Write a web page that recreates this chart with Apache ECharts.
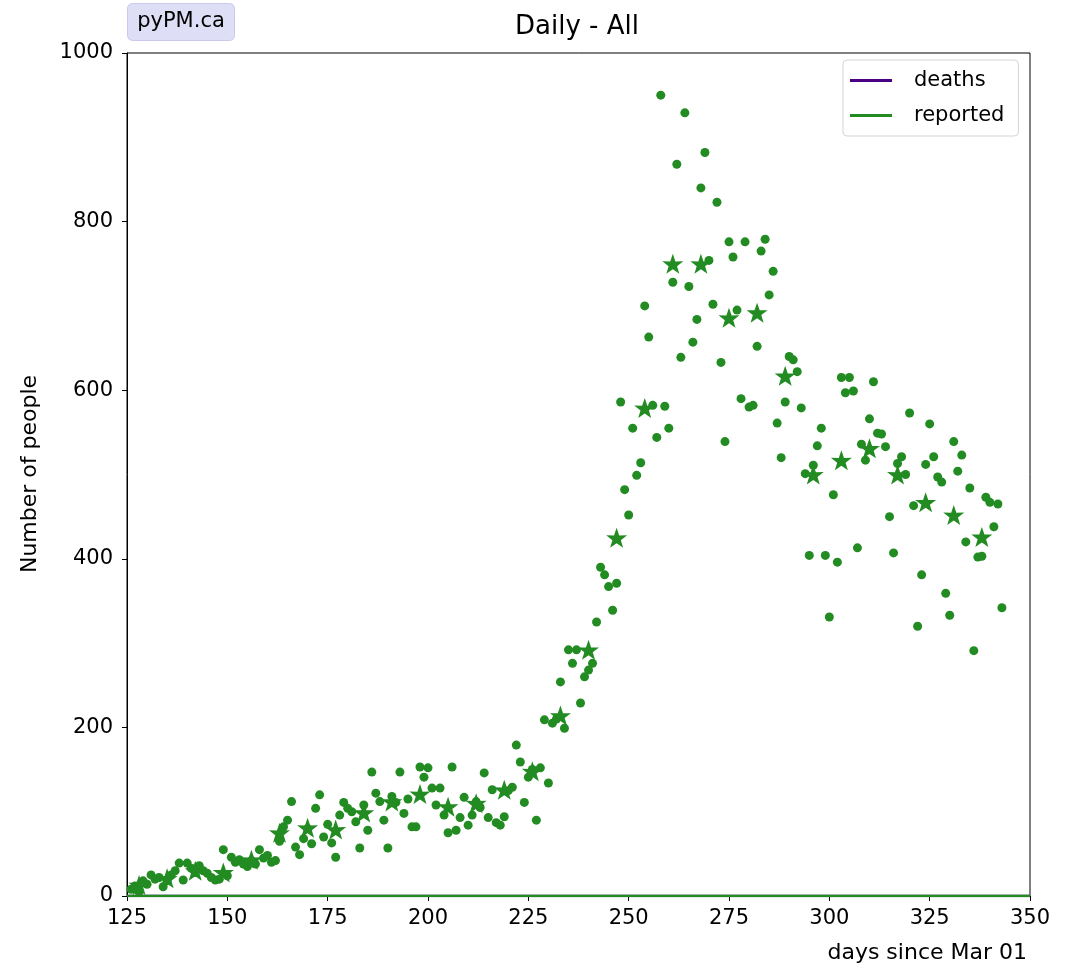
<!DOCTYPE html>
<html>
<head>
<meta charset="utf-8">
<title>Daily - All</title>
<script src="https://cdn.jsdelivr.net/npm/echarts@6/dist/echarts.min.js"></script>
<style>
  html, body { margin: 0; padding: 0; background: #fff; }
  #chart { width: 1066px; height: 968px; }
</style>
</head>
<body>
<div id="chart"></div>
<script>
// Daily reported counts, one value per day starting at firstDay (days since Mar 01)
const firstDay = 126;
const dailyReported = [
  8, 12, 5, 18, 14, 25, 20, 22, 11, 18,
  25, 30, 39, 19, 39, 33, 28, 36, 30, 27,
  22, 19, 20, 55, 24, 46, 40, 43, 38, 35,
  42, 38, 55, 45, 48, 40, 42, 65, 82, 90,
  112, 58, 49, 68, 80, 62, 104, 120, 70, 85,
  63, 46, 96, 111, 104, 100, 88, 57, 108, 78,
  147, 122, 112, 90, 57, 118, 111, 147, 98, 115,
  82, 82, 153, 141, 152, 128, 108, 128, 96, 75,
  153, 78, 93, 117, 84, 96, 112, 105, 146, 93,
  126, 87, 84, 94, 125, 129, 179, 159, 111, 141,
  150, 90, 152, 209, 134, 205, 210, 254, 199, 292,
  276, 292, 229, 260, 268, 276, 325, 390, 381, 367,
  339, 371, 586, 482, 452, 555, 499, 514, 700, 663,
  582, 544, 950, 581, 555, 728, 868, 639, 929, 723,
  657, 684, 840, 882, 754, 702, 823, 633, 539, 776,
  758, 695, 590, 776, 580, 582, 652, 765, 779, 713,
  741, 561, 520, 586, 640, 636, 622, 579, 501, 404,
  511, 534, 555, 404, 331, 476, 396, 615, 597, 615,
  599, 413, 536, 517, 566, 610, 549, 548, 533, 450,
  407, 513, 521, 500, 573, 463, 320, 381, 512, 560,
  521, 497, 491, 359, 333, 539, 504, 523, 420, 484,
  291, 402, 403, 473, 467, 438, 465, 342
];

// Weekly averages (star markers)
const weekDays = [128, 135, 142, 149, 156, 163, 170, 177, 184, 191, 198, 205, 212, 219, 226,
                  233, 240, 247, 254, 261, 268, 275, 282, 289, 296, 303, 310, 317, 324, 331, 338];
const weeklyReported = [13, 21, 30, 28, 43, 75, 81, 79, 99, 112, 121, 106, 110, 126, 148,
                        214, 292, 425, 579, 750, 750, 686, 692, 617, 500, 517, 531, 500, 467, 452, 426];

// Model lines shown in the legend
const lineDays = [125, 350];
const deathsLine = [0, 0];
const reportedLine = [0, 0];

const xTicks = { min: 125, max: 350, interval: 25 };
const yTicks = { min: 0, max: 1000, interval: 200 };

const GREEN = '#228b22';
const PURPLE = '#4b0082';
const FONT = 'DejaVu Sans';
const STAR = 'path://M50,0 L61.8,35.1 L97.6,34.5 L69.1,56.7 L79.4,90.9 L50,70.5 L20.6,90.9 L30.9,56.7 L2.4,34.5 L38.2,35.1 Z';

const dailyPoints = dailyReported.map((v, i) => [firstDay + i, v]);
const weeklyPoints = weekDays.map((d, i) => [d, weeklyReported[i]]);

const chart = echarts.init(document.getElementById('chart'), null, { renderer: 'canvas' });

chart.setOption({
  animation: false,
  backgroundColor: '#fff',
  textStyle: { fontFamily: FONT },
  grid: {
    left: 127, right: 36, top: 53, bottom: 72,
    show: true, borderColor: '#000', borderWidth: 1, backgroundColor: 'transparent'
  },
  xAxis: {
    type: 'value',
    min: xTicks.min, max: xTicks.max, interval: xTicks.interval,
    axisLine: { show: true, onZero: false, lineStyle: { color: '#000', width: 1 } },
    axisTick: { show: true, length: 5, lineStyle: { color: '#000' } },
    axisLabel: { color: '#000', fontSize: 21, fontFamily: FONT, margin: 12,
                 formatter: v => String(v) },
    splitLine: { show: false }
  },
  yAxis: {
    type: 'value',
    min: yTicks.min, max: yTicks.max, interval: yTicks.interval,
    axisLine: { show: true, lineStyle: { color: '#000', width: 1 } },
    axisTick: { show: true, length: 5, lineStyle: { color: '#000' } },
    axisLabel: { color: '#000', fontSize: 21, fontFamily: FONT, margin: 14,
                 formatter: v => String(v) },
    splitLine: { show: false }
  },
  legend: {
    orient: 'vertical',
    left: 843, top: 60,
    backgroundColor: '#fff',
    borderColor: '#d4d4d4', borderWidth: 1, borderRadius: 4,
    padding: [10, 14, 10, 7],
    itemWidth: 42, itemHeight: 3, itemGap: 14,
    textStyle: { fontSize: 21, fontFamily: FONT, color: '#000', padding: [0, 0, 0, 17] },
    data: [
      { name: 'deaths', icon: 'rect', itemStyle: { color: PURPLE } },
      { name: 'reported', icon: 'rect', itemStyle: { color: GREEN } }
    ]
  },
  graphic: [
    {
      type: 'group', left: 127, top: 3,
      children: [
        { type: 'rect', shape: { x: 0, y: 0, width: 107, height: 37, r: 5 },
          style: { fill: '#dedef6', stroke: '#c9c9ee', lineWidth: 1 } },
        { type: 'text', x: 53.5, y: 18.5,
          style: { text: 'pyPM.ca', font: '21px "DejaVu Sans"', fill: '#000',
                   textAlign: 'center', textVerticalAlign: 'middle' } }
      ]
    },
    { type: 'text', x: 577, y: 27,
      style: { text: 'Daily - All', font: '26px "DejaVu Sans"', fill: '#000',
               textAlign: 'center', textVerticalAlign: 'middle' } },
    { type: 'text', x: 30, y: 474, rotation: Math.PI / 2,
      style: { text: 'Number of people', font: '22px "DejaVu Sans"', fill: '#000',
               textAlign: 'center', textVerticalAlign: 'middle' } },
    { type: 'text', x: 1027, y: 953,
      style: { text: 'days since Mar 01', font: '22px "DejaVu Sans"', fill: '#000',
               textAlign: 'right', textVerticalAlign: 'middle' } }
  ],
  series: [
    {
      name: 'deaths', type: 'line', data: lineDays.map((d, i) => [d, deathsLine[i]]),
      showSymbol: false, symbol: 'none', lineStyle: { color: PURPLE, width: 2.5 },
      itemStyle: { color: PURPLE }, z: 3
    },
    {
      name: 'reported', type: 'line', data: lineDays.map((d, i) => [d, reportedLine[i]]),
      showSymbol: false, symbol: 'none', lineStyle: { color: GREEN, width: 2.5 },
      itemStyle: { color: GREEN }, z: 4
    },
    {
      name: 'daily', type: 'scatter', data: dailyPoints,
      symbol: 'circle', symbolSize: 9,
      itemStyle: { color: GREEN, opacity: 1 }, z: 5
    },
    {
      name: 'weekly', type: 'scatter', data: weeklyPoints,
      symbol: STAR, symbolSize: [21, 20],
      itemStyle: { color: GREEN, opacity: 1 }, z: 6
    }
  ]
});
</script>
</body>
</html>
